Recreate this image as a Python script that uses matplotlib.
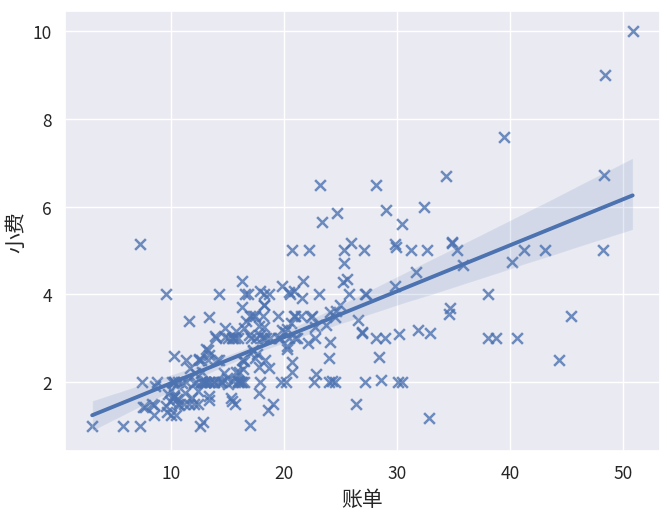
import matplotlib
matplotlib.use("Agg")
import matplotlib.pyplot as plt
import numpy as np
import seaborn as sns

# tips dataset: total bill / tip
total_bill = [16.99, 10.34, 21.01, 23.68, 24.59, 25.29, 8.77, 26.88, 15.04, 14.78, 10.27, 35.26, 15.42, 18.43, 14.83, 21.58, 10.33, 16.29, 16.97, 20.65, 17.92, 20.29, 15.77, 39.42, 19.82, 17.81, 13.37, 12.69, 21.7, 19.65, 9.55, 18.35, 15.06, 20.69, 17.78, 24.06, 16.31, 16.93, 18.69, 31.27, 16.04, 17.46, 13.94, 9.68, 30.4, 18.29, 22.23, 32.4, 28.55, 18.04, 12.54, 10.29, 34.81, 9.94, 25.56, 19.49, 38.01, 26.41, 11.24, 48.27, 20.29, 13.81, 11.02, 18.29, 17.59, 20.08, 16.45, 3.07, 20.23, 15.01, 12.02, 17.07, 26.86, 25.28, 14.73, 10.51, 17.92, 27.2, 22.76, 17.29, 19.44, 16.66, 10.07, 32.68, 15.98, 34.83, 13.03, 18.28, 24.71, 21.16, 28.97, 22.49, 5.75, 16.32, 22.75, 40.17, 27.28, 12.03, 21.01, 12.46, 11.35, 15.38, 44.3, 22.42, 20.92, 15.36, 20.49, 25.21, 18.24, 14.31, 14.0, 7.25, 38.07, 23.95, 25.71, 17.31, 29.93, 10.65, 12.43, 24.08, 11.69, 13.42, 14.26, 15.95, 12.48, 29.8, 8.52, 14.52, 11.38, 22.82, 19.08, 20.27, 11.17, 12.26, 18.26, 8.51, 10.33, 14.15, 16.0, 13.16, 17.47, 34.3, 41.19, 27.05, 16.43, 8.35, 18.64, 11.87, 9.78, 7.51, 14.07, 13.13, 17.26, 24.55, 19.77, 29.85, 48.17, 25.0, 13.39, 16.49, 21.5, 12.66, 16.21, 13.81, 17.51, 24.52, 20.76, 31.71, 10.59, 10.63, 50.81, 15.81, 7.25, 31.85, 16.82, 32.9, 17.89, 14.48, 9.6, 34.63, 34.65, 23.33, 45.35, 23.17, 40.55, 20.69, 20.9, 30.46, 18.15, 23.1, 15.69, 19.81, 28.44, 15.48, 16.58, 7.56, 10.34, 43.11, 13.0, 13.51, 18.71, 12.74, 13.0, 16.4, 20.53, 16.47, 26.59, 38.73, 24.27, 12.76, 30.06, 25.89, 48.33, 13.27, 28.17, 12.9, 28.15, 11.59, 7.74, 30.14, 12.16, 13.42, 8.58, 15.98, 13.42, 16.27, 10.09, 20.45, 13.28, 22.12, 24.01, 15.69, 11.61, 10.77, 15.53, 10.07, 12.6, 32.83, 35.83, 29.03, 27.18, 22.67, 17.82, 18.78]
tip = [1.01, 1.66, 3.5, 3.31, 3.61, 4.71, 2.0, 3.12, 1.96, 3.23, 1.71, 5.0, 1.57, 3.0, 3.02, 3.92, 1.67, 3.71, 3.5, 3.35, 4.08, 2.75, 2.23, 7.58, 3.18, 2.34, 2.0, 2.0, 4.3, 3.0, 1.45, 2.5, 3.0, 2.45, 3.27, 3.6, 2.0, 3.07, 2.31, 5.0, 2.24, 2.54, 3.06, 1.32, 5.6, 3.0, 5.0, 6.0, 2.05, 3.0, 2.5, 2.6, 5.2, 1.56, 4.34, 3.51, 3.0, 1.5, 1.76, 6.73, 3.21, 2.0, 1.98, 3.76, 2.64, 3.15, 2.47, 1.0, 2.01, 2.09, 1.97, 3.0, 3.14, 5.0, 2.2, 1.25, 3.08, 4.0, 3.0, 2.71, 3.0, 3.4, 1.83, 5.0, 2.03, 5.17, 2.0, 4.0, 5.85, 3.0, 3.0, 3.5, 1.0, 4.3, 3.25, 4.73, 4.0, 1.5, 3.0, 1.5, 2.5, 3.0, 2.5, 3.48, 4.08, 1.64, 4.06, 4.29, 3.76, 4.0, 3.0, 1.0, 4.0, 2.55, 4.0, 3.5, 5.07, 1.5, 1.8, 2.92, 2.31, 1.68, 2.5, 2.0, 2.52, 4.2, 1.48, 2.0, 2.0, 2.18, 1.5, 2.83, 1.5, 2.0, 3.25, 1.25, 2.0, 2.0, 2.0, 2.75, 3.5, 6.7, 5.0, 5.0, 2.3, 1.5, 1.36, 1.63, 1.73, 2.0, 2.5, 2.0, 2.74, 2.0, 2.0, 5.14, 5.0, 3.75, 2.61, 2.0, 3.5, 2.5, 2.0, 2.0, 3.0, 3.48, 2.24, 4.5, 1.61, 2.0, 10.0, 3.16, 5.15, 3.18, 4.0, 3.11, 2.0, 2.0, 4.0, 3.55, 3.68, 5.65, 3.5, 6.5, 3.0, 5.0, 3.5, 2.0, 3.5, 4.0, 1.5, 4.19, 2.56, 2.02, 4.0, 1.44, 2.0, 5.0, 2.0, 2.0, 4.0, 2.01, 2.0, 2.5, 4.0, 3.23, 3.41, 3.0, 2.03, 2.23, 2.0, 5.16, 9.0, 2.5, 6.5, 1.1, 3.0, 1.5, 1.44, 3.09, 2.2, 3.48, 1.92, 3.0, 1.58, 2.5, 2.0, 3.0, 2.72, 2.88, 2.0, 3.0, 3.39, 1.47, 3.0, 1.25, 1.0, 1.17, 4.67, 5.92, 2.0, 2.0, 1.75, 3.0]

sns.set_theme(style="darkgrid")
plt.rcParams["font.family"] = ["Noto Sans CJK SC", "DejaVu Sans"]

fig, ax = plt.subplots(figsize=(6.65, 5.1), dpi=100)
sns.regplot(x=np.array(total_bill), y=np.array(tip), marker="x", ax=ax, seed=0,
            scatter_kws={"s": 60, "linewidths": 1.8}, line_kws={"linewidth": 2.8})
ax.set_xlabel("账单", fontsize=15)
ax.set_ylabel("小费", fontsize=15)
ax.tick_params(labelsize=12.5)
fig.subplots_adjust(left=0.098, right=0.992, top=0.976, bottom=0.114)
fig.savefig("out.png", dpi=100)
